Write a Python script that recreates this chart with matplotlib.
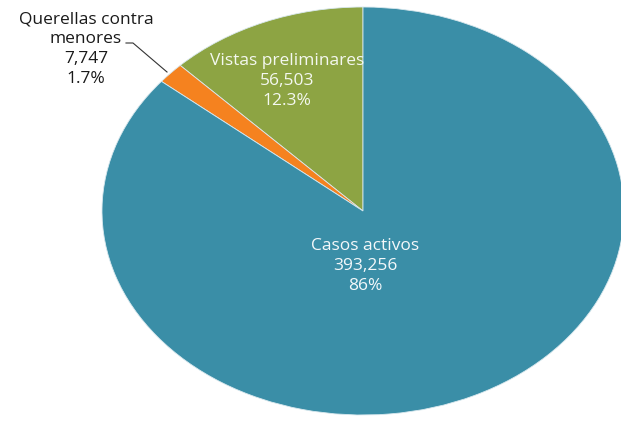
import matplotlib

matplotlib.use("Agg")

import matplotlib.pyplot as plt

labels = ["Vistas preliminares", "Querellas contra\nmenores", "Casos activos"]
values = [56503, 7747, 393256]
pct_labels = ["12.3%", "1.7%", "86%"]
colors = ["#8DA443", "#F5821F", "#3A8EA7"]

W, H = 621, 422
fig = plt.figure(figsize=(W / 100, H / 100), dpi=100, facecolor="white")

# pie ellipse in pixels: centre (363, 211), radii 261 x 204
cx, cy, rx, ry = 363, 211, 261, 204
ax = fig.add_axes([(cx - rx) / W, (H - cy - ry) / H, 2 * rx / W, 2 * ry / H])
wedges, _ = ax.pie(
    values,
    colors=colors,
    startangle=90,
    counterclock=True,
    wedgeprops={"edgecolor": "#d8e8ee", "linewidth": 0.6},
)
for w in wedges:
    w.set_clip_on(False)
ax.set_aspect("auto")
ax.set_xlim(-1, 1)
ax.set_ylim(-1, 1)
ax.axis("off")

FONT = "Open Sans"
SIZE = 12.5
LS = 1.32


def px(x, y):
    return x / W, 1 - y / H


def fmt(v):
    return f"{v:,}"


# Casos activos
fig.text(*px(365, 266), f"{labels[2]}\n{fmt(values[2])}\n{pct_labels[2]}",
         ha="center", va="center", color="#f4f8fa", fontsize=SIZE,
         family=FONT, linespacing=LS)
# Vistas preliminares
fig.text(*px(287, 81), f"{labels[0]}\n{fmt(values[0])}\n{pct_labels[0]}",
         ha="center", va="center", color="#f4f8f0", fontsize=SIZE,
         family=FONT, linespacing=LS)
# Querellas contra menores (outside with leader line)
fig.text(*px(86, 49), f"{labels[1]}\n{fmt(values[1])}\n{pct_labels[1]}",
         ha="center", va="center", color="#1a1a1a", fontsize=SIZE,
         family=FONT, linespacing=LS)
fig.add_artist(plt.Line2D([126 / W, 133 / W, 167 / W],
                          [1 - 43 / H, 1 - 43 / H, 1 - 72 / H],
                          color="#333333", linewidth=0.8))

fig.savefig("out.png", dpi=100, facecolor="white")
